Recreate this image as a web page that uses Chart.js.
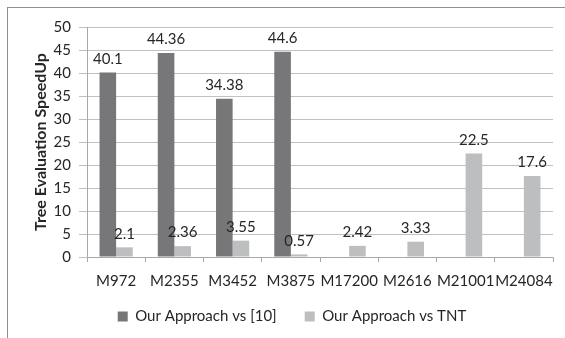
<!DOCTYPE html>
<html>
<head>
<meta charset="utf-8">
<script src="https://cdn.jsdelivr.net/npm/chart.js@4"></script>
<style>
  html, body { margin: 0; padding: 0; background: #fff; }
  #wrap { position: relative; width: 565px; height: 338px; overflow: hidden; }
  #frame { position: absolute; left: 7px; top: 7px; width: 600px; height: 400px;
           border: 1px solid #8f8f8f; box-sizing: border-box; }
  canvas { position: absolute; left: 0; top: 0; }
</style>
</head>
<body>
<div id="wrap">
  <div id="frame"></div>
  <canvas id="c" width="565" height="338"></canvas>
</div>
<script>
const categories = ['M972', 'M2355', 'M3452', 'M3875', 'M17200', 'M2616', 'M21001', 'M24084'];
const vsRef10 = [40.1, 44.36, 34.38, 44.6, null, null, null, null];
const vsTNT = [2.1, 2.36, 3.55, 0.57, 2.42, 3.33, 22.5, 17.6];
const yTicks = [0, 5, 10, 15, 20, 25, 30, 35, 40, 45, 50];

const FONT = 'Lato, "Open Sans", sans-serif';
const TEXT = '#262626';

// Value labels above each bar
const barValueLabels = {
  id: 'barValueLabels',
  afterDatasetsDraw(chart) {
    const ctx = chart.ctx;
    ctx.save();
    ctx.font = '15px ' + FONT;
    ctx.fillStyle = TEXT;
    ctx.textAlign = 'center';
    ctx.textBaseline = 'bottom';
    chart.data.datasets.forEach((ds, di) => {
      const meta = chart.getDatasetMeta(di);
      meta.data.forEach((el, i) => {
        const v = ds.data[i];
        if (v === null || v === undefined) return;
        ctx.fillText(String(v), el.x, el.y - 6);
      });
    });
    ctx.restore();
  }
};

new Chart(document.getElementById('c'), {
  type: 'bar',
  data: {
    labels: categories,
    datasets: [
      { label: 'Our Approach vs [10]', data: vsRef10, backgroundColor: '#77777a',
        categoryPercentage: 0.57, barPercentage: 1.0 },
      { label: 'Our Approach vs TNT', data: vsTNT, backgroundColor: '#bdbec0',
        categoryPercentage: 0.57, barPercentage: 1.0 }
    ]
  },
  options: {
    responsive: false,
    animation: false,
    layout: { padding: { top: 27, right: 12, left: 31, bottom: 4 } },
    scales: {
      x: {
        grid: { drawOnChartArea: false, drawTicks: true, tickLength: 5, color: '#a8a8a8' },
        border: { color: '#a8a8a8' },
        ticks: { color: TEXT, font: { family: FONT, size: 15 }, padding: 10,
                 autoSkip: false, maxRotation: 0, minRotation: 0 },
        afterFit(scale) {
          scale.height = 24;
          // let the category labels extend below the reduced scale box
          scale._computeLabelArea = () => undefined;
        }
      },
      y: {
        min: 0, max: 50,
        afterBuildTicks(scale) { scale.ticks = yTicks.map(v => ({ value: v })); },
        grid: { color: '#c0c0c0', tickLength: 8 },
        border: { color: '#a8a8a8' },
        ticks: { color: TEXT, font: { family: FONT, size: 15 }, padding: 8 },
        title: { display: true, text: 'Tree Evaluation SpeedUp', color: TEXT,
                 font: { family: FONT, size: 16, weight: 'bold' }, padding: { top: 0, bottom: 0 } },
        afterFit(scale) { scale.width = 56; }
      }
    },
    plugins: {
      legend: {
        position: 'bottom',
        labels: { color: TEXT, font: { family: FONT, size: 15 }, boxWidth: 10, boxHeight: 10, padding: 28 }
      },
      tooltip: { enabled: false }
    }
  },
  plugins: [barValueLabels]
});
</script>
</body>
</html>
